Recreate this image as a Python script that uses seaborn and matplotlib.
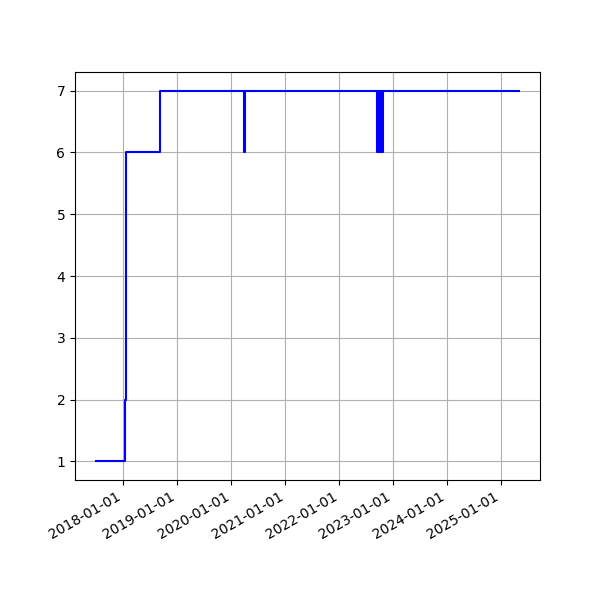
import matplotlib
matplotlib.use("Agg")
import matplotlib.pyplot as plt
import matplotlib.dates as mdates
import seaborn as sns
import pandas as pd

# change points (date, value); drawn as steps
dates = [
    "2017-06-30", "2018-01-12", "2018-01-18", "2018-09-07", "2020-03-30", "2020-04-05",
    "2022-09-14", "2022-09-17", "2022-09-20", "2022-09-23", "2022-09-26", "2022-09-29",
    "2022-10-02", "2022-10-05", "2022-10-08", "2022-10-11", "2022-10-14", "2022-10-17",
    "2022-10-20", "2022-10-22", "2025-04-30",
]
values = [
    1, 2, 6, 7, 6, 7,
    6, 7, 6, 7, 6, 7,
    6, 7, 6, 7, 6, 7,
    6, 7, 7,
]

df = pd.DataFrame({"date": pd.to_datetime(dates), "value": values})

fig, ax = plt.subplots(figsize=(6, 6), dpi=100)
sns.lineplot(data=df, x="date", y="value", color="blue", estimator=None,
             sort=False, drawstyle="steps-post", linewidth=1.5, ax=ax)
ax.set_xlabel("")
ax.set_ylabel("")
ax.grid(True, color="#b0b0b0", linewidth=0.8)
ax.xaxis.set_major_locator(mdates.YearLocator())
ax.xaxis.set_major_formatter(mdates.DateFormatter("%Y-%m-%d"))
fig.autofmt_xdate()
fig.savefig("out.png", dpi=100)
